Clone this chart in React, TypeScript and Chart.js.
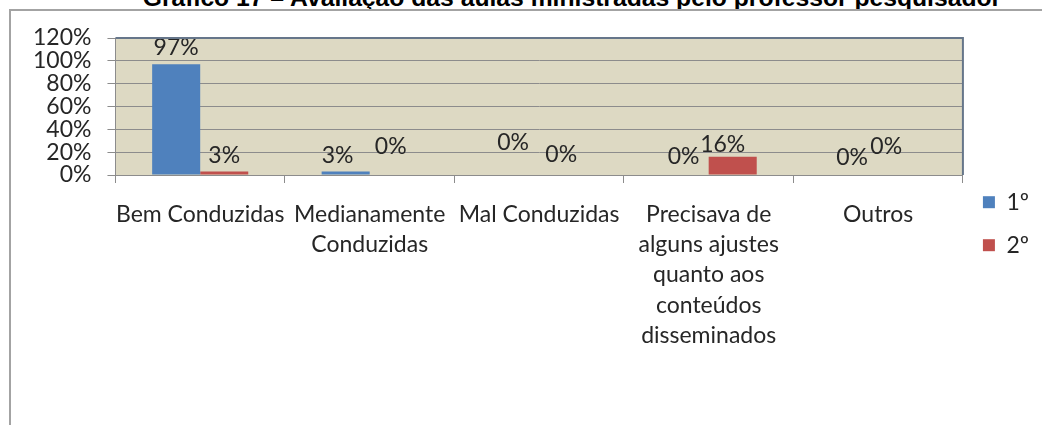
import React, { useEffect, useRef } from "react";
import { Chart, registerables } from "chart.js";

Chart.register(...registerables);

const TITLE = "Gráfico 17 – Avaliação das aulas ministradas pelo professor pesquisador";
const categories: string[][] = [
  ["Bem Conduzidas"],
  ["Medianamente", "Conduzidas"],
  ["Mal Conduzidas"],
  ["Precisava de", "alguns ajustes", "quanto aos", "conteúdos", "disseminados"],
  ["Outros"],
];
const seriesNames = ["1º", "2º"];
const series1 = [97, 3, 0, 0, 0];
const series2 = [3, 0, 0, 16, 0];
const yTicks = [0, 20, 40, 60, 80, 100, 120];

const FONT = "Lato";
const FS = 23;
const TEXT = "#262626";

// pixel nudges reproducing the hand-placed data labels of the original
const LABEL_NUDGE = [
  [{ dx: 0, dy: -17 }, { dx: -8, dy: -16 }, { dx: -2, dy: -32 }, { dx: -1, dy: -18 }, { dx: -2, dy: -17 }],
  [{ dx: 0, dy: -16 }, { dx: -3, dy: -28 }, { dx: -2, dy: -20 }, { dx: -10, dy: -12 }, { dx: -16, dy: -28 }],
];

const plotBg = {
  id: "plotBg",
  beforeDraw(chart: any) {
    const { ctx, chartArea: a } = chart;
    ctx.save();
    ctx.fillStyle = "#DDD9C3";
    ctx.fillRect(a.left, a.top, a.right - a.left, a.bottom - a.top);
    ctx.restore();
  },
  afterDraw(chart: any) {
    const { ctx, chartArea: a } = chart;
    ctx.save();
    ctx.strokeStyle = "#66768a";
    ctx.lineWidth = 2;
    ctx.beginPath();
    ctx.moveTo(a.left, a.top);
    ctx.lineTo(a.right, a.top);
    ctx.lineTo(a.right, a.bottom);
    ctx.stroke();
    ctx.restore();
  },
};

const dataLabels = {
  id: "dataLabels",
  afterDatasetsDraw(chart: any) {
    const { ctx } = chart;
    ctx.save();
    ctx.font = `${FS}px ${FONT}`;
    ctx.fillStyle = TEXT;
    ctx.textAlign = "center";
    ctx.textBaseline = "middle";
    chart.data.datasets.forEach((ds: any, di: number) => {
      const meta = chart.getDatasetMeta(di);
      meta.data.forEach((el: any, i: number) => {
        const n = LABEL_NUDGE[di][i];
        ctx.fillText(`${ds.data[i]}%`, el.x + n.dx, el.y + n.dy);
      });
    });
    ctx.restore();
  },
};

export default function App() {
  const ref = useRef<HTMLCanvasElement>(null);
  useEffect(() => {
    if (!ref.current) return;
    const chart = new Chart(ref.current, {
      type: "bar",
      data: {
        labels: categories,
        datasets: [
          { label: seriesNames[0], data: series1, backgroundColor: "#4F81BD", categoryPercentage: 0.567, barPercentage: 1 },
          { label: seriesNames[1], data: series2, backgroundColor: "#C0504D", categoryPercentage: 0.567, barPercentage: 1 },
        ],
      },
      options: {
        responsive: false,
        animation: false,
        layout: { padding: { top: 38, bottom: 76, left: 17, right: 3 } },
        plugins: {
          title: { display: false },
          tooltip: { enabled: false },
          legend: {
            position: "right",
            align: "center",
            title: { display: true, text: "", font: { size: 12, lineHeight: 1.2 }, padding: { top: 0, bottom: 46 } },
            labels: {
              boxWidth: 12,
              boxHeight: 12,
              padding: 20,
              color: TEXT,
              font: { family: FONT, size: FS, lineHeight: 0.7 },
            },
          },
        },
        scales: {
          x: {
            grid: { display: true, drawOnChartArea: false, drawTicks: true, tickLength: 8, color: "#8c8c8c" },
            border: { display: true, color: "#8c8c8c" },
            afterFit: (s: any) => {
              s.height = 174;
            },
            ticks: {
              color: TEXT,
              font: { family: FONT, size: FS, lineHeight: 1.32 },
              maxRotation: 0,
              minRotation: 0,
              autoSkip: false,
              padding: 16,
            },
          },
          y: {
            min: 0,
            max: 120,
            afterBuildTicks: (s: any) => {
              s.ticks = yTicks.map((v) => ({ value: v }));
            },
            grid: { color: "#8c8c8c", tickLength: 8 },
            border: { display: true, color: "#8c8c8c" },
            ticks: {
              color: TEXT,
              autoSkip: false,
              font: { family: FONT, size: FS },
              padding: 16,
              callback: (v: any) => `${v}%`,
            },
          },
        },
      },
      plugins: [plotBg, dataLabels],
    });
    return () => chart.destroy();
  }, []);

  return (
    <div style={{ position: "fixed", left: 0, top: 0, width: 1042, height: 425, overflow: "hidden", background: "#fff" }}>
      <div
        style={{
          position: "absolute",
          left: 72,
          width: 1000,
          top: -14,
          lineHeight: "24px",
          textAlign: "center",
          fontFamily: "'Liberation Sans', Arial, sans-serif",
          fontWeight: "bold",
          fontSize: 24.7,
          color: "#000",
          whiteSpace: "nowrap",
        }}
      >
        {TITLE}
      </div>
      <div
        style={{
          position: "absolute",
          left: 9,
          top: 9,
          width: 1100,
          height: 500,
          borderLeft: "2px solid #a3a3a3",
          borderTop: "2px solid #a3a3a3",
        }}
      />
      <canvas ref={ref} width={1042} height={425} style={{ position: "absolute", left: 0, top: 0 }} />
    </div>
  );
}
